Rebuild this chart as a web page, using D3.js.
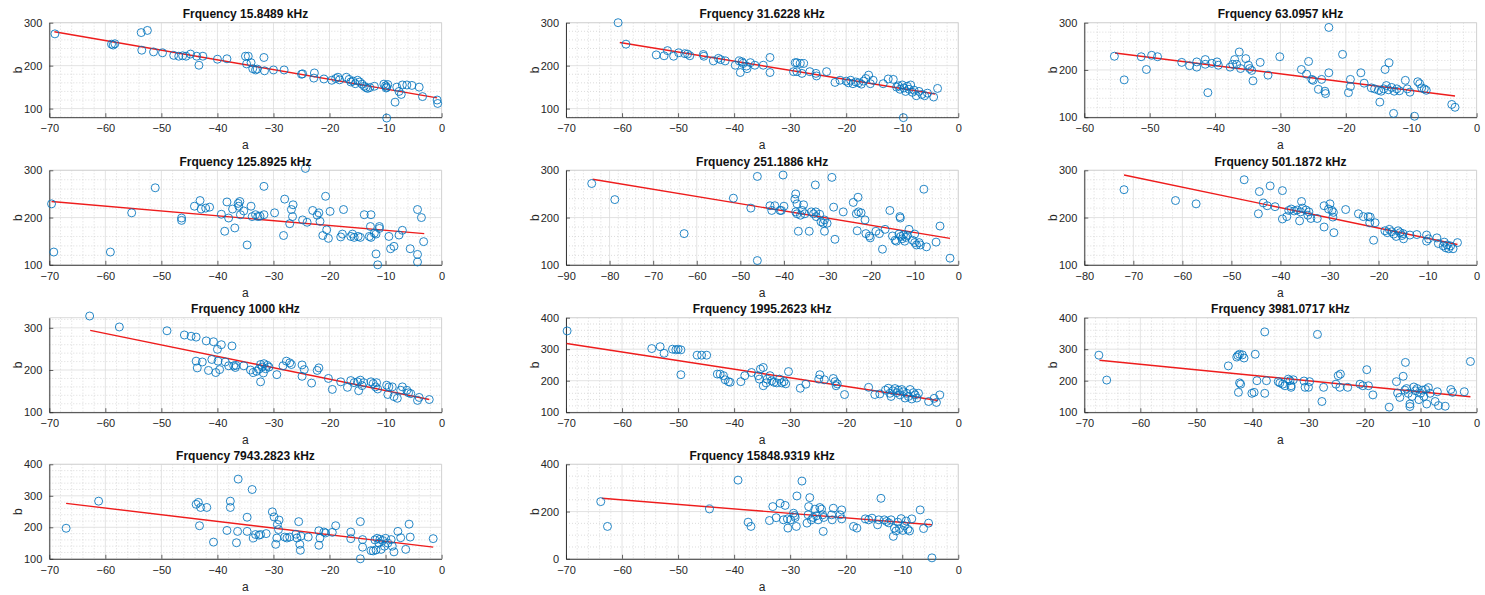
<!DOCTYPE html>
<html><head><meta charset="utf-8">
<script src="https://cdn.jsdelivr.net/npm/d3@7"></script>
<style>body{margin:0;background:#fff}svg{display:block;font-family:"Liberation Sans",Arial,Helvetica,sans-serif}</style>
</head><body><svg id="c" width="1485" height="595"></svg>
<script>
const titles = ["Frquency 15.8489 kHz","Frquency 31.6228 kHz","Frquency 63.0957 kHz","Frquency 125.8925 kHz","Frquency 251.1886 kHz","Frquency 501.1872 kHz","Frquency 1000 kHz","Frquency 1995.2623 kHz","Frquency 3981.0717 kHz","Frquency 7943.2823 kHz","Frquency 15848.9319 kHz"];
const xDomains = [[-70,0],[-70,0],[-60,0],[-70,0],[-90,0],[-80,0],[-70,0],[-70,0],[-70,0],[-70,0],[-70,0]];
const yDomains = [[80,300],[80,300],[100,300],[100,300],[100,300],[100,300],[100,324],[100,400],[100,400],[100,400],[0,400]];
const yTickSets = [[100,200,300],[100,200,300],[100,200,300],[100,200,300],[100,200,300],[100,200,300],[100,200,300],[100,200,300,400],[100,200,300,400],[100,200,300,400],[0,200,400]];
const xLabel = "a", yLabel = "b";

const pts1 = [[-69.0,274],[-58.9,250],[-58.6,248],[-58.3,251],[-53.6,277],[-52.5,282],[-53.5,236],[-51.4,232],[-49.8,230],[-47.8,224],[-46.9,222],[-46.2,223],[-45.6,222],[-44.8,227],[-43.7,222],[-42.6,222],[-43.3,201],[-40.0,215],[-38.3,216],[-35.0,222],[-34.5,222],[-34.8,204],[-34.0,207],[-33.7,193],[-33.2,190],[-32.9,192],[-31.7,219],[-31.6,188],[-30.0,190],[-28.1,190],[-25.0,180],[-24.8,181],[-22.7,183],[-22.8,171],[-21.0,169],[-19.6,166],[-18.9,170],[-18.5,173],[-18.2,167],[-17.0,173],[-16.5,168],[-16.2,162],[-15.8,164],[-15.4,158],[-15.0,166],[-14.6,162],[-14.2,157],[-13.8,152],[-13.5,149],[-13.2,147],[-12.8,149],[-12.0,152],[-10.3,157],[-10.0,153],[-9.8,150],[-9.6,156],[-9.9,148],[-9.8,78],[-8.3,115],[-8.0,150],[-7.6,140],[-7.2,133],[-7.0,155],[-6.2,155],[-5.3,154],[-4.0,150],[-3.4,128],[-0.8,120],[-0.7,112]];
const pts2 = [[-60.7,300],[-59.3,250],[-53.9,225],[-52.5,223],[-51.9,235],[-50.8,222],[-49.9,230],[-48.8,228],[-48.3,227],[-47.9,223],[-45.5,226],[-45.4,222],[-43.7,211],[-42.8,217],[-42.4,214],[-41.6,211],[-39.8,201],[-39.1,211],[-38.6,209],[-38.4,205],[-38.9,184],[-37.8,199],[-37.7,193],[-37.1,207],[-36.3,201],[-34.8,201],[-33.6,219],[-33.6,184],[-29.1,207],[-28.8,207],[-28.2,205],[-29.4,186],[-28.8,186],[-27.9,182],[-27.6,205],[-26.5,186],[-25.4,182],[-25.3,176],[-23.5,186],[-22.0,161],[-21.1,166],[-20.0,164],[-19.6,160],[-19.2,166],[-18.8,158],[-18.3,162],[-17.8,160],[-17.3,157],[-16.9,164],[-16.5,170],[-16.0,178],[-15.7,158],[-15.2,166],[-13.4,158],[-12.5,169],[-11.6,168],[-11.0,150],[-10.7,153],[-10.4,145],[-10.0,155],[-9.7,148],[-9.4,140],[-9.1,152],[-8.8,145],[-8.5,155],[-8.2,138],[-7.9,143],[-7.5,130],[-7.0,140],[-6.5,133],[-6.0,130],[-5.5,136],[-4.4,127],[-3.7,147],[-9.8,79]];
const pts3 = [[-55.4,229],[-53.9,179],[-51.3,228],[-50.5,201],[-49.7,231],[-48.8,228],[-45.1,216],[-43.9,209],[-42.8,217],[-42.8,206],[-41.5,222],[-41.5,212],[-41.1,152],[-40.5,214],[-39.7,217],[-39.5,210],[-37.7,206],[-37.3,212],[-37.0,222],[-36.7,212],[-36.3,238],[-36.1,203],[-35.3,224],[-34.9,210],[-34.7,203],[-34.4,199],[-34.2,177],[-33.1,216],[-31.9,189],[-30.1,228],[-26.8,201],[-26.0,191],[-25.7,218],[-25.2,180],[-25.0,178],[-23.7,180],[-24.2,159],[-23.2,155],[-23.1,150],[-22.6,290],[-22.6,194],[-20.5,233],[-19.6,152],[-19.3,180],[-19.3,165],[-17.7,194],[-17.2,172],[-16.1,162],[-15.6,160],[-15.0,157],[-14.6,155],[-14.2,160],[-13.8,167],[-13.5,158],[-13.0,163],[-12.6,155],[-12.2,160],[-11.8,156],[-14.8,132],[-14.0,201],[-13.4,215],[-12.7,108],[-10.9,178],[-10.6,160],[-10.2,153],[-9.5,102],[-9.0,175],[-8.7,171],[-8.4,162],[-8.0,160],[-7.7,157],[-3.8,127],[-3.3,121]];
const pts4 = [[-69.6,229],[-69.2,127],[-59.1,127],[-55.3,210],[-51.1,263],[-46.4,199],[-46.4,194],[-44.1,224],[-43.1,236],[-42.9,218],[-42.1,220],[-41.4,222],[-39.3,207],[-38.7,171],[-38.3,233],[-38.0,199],[-37.3,218],[-36.9,178],[-36.3,230],[-36.2,224],[-36.0,234],[-35.9,206],[-35.3,214],[-34.7,142],[-34.0,224],[-33.8,202],[-33.2,206],[-32.8,202],[-32.4,203],[-31.7,206],[-31.7,266],[-29.8,210],[-28.2,162],[-28.0,239],[-26.8,217],[-26.5,227],[-27.1,187],[-26.6,202],[-24.8,195],[-24.3,304],[-24.0,190],[-23.0,215],[-22.2,205],[-21.9,210],[-21.7,192],[-21.2,162],[-20.7,245],[-20.5,174],[-20.2,156],[-19.9,213],[-18.0,159],[-17.7,165],[-17.5,217],[-16.2,160],[-15.9,165],[-15.6,158],[-14.9,160],[-14.5,158],[-13.8,206],[-12.6,206],[-12.9,160],[-12.6,158],[-12.7,181],[-12.0,167],[-11.7,165],[-11.7,123],[-11.4,100],[-11.1,177],[-11.1,181],[-9.4,160],[-9.1,134],[-8.5,139],[-7.6,163],[-7.0,173],[-5.6,134],[-4.3,217],[-4.3,122],[-4.3,106],[-3.6,200],[-3.2,149]];
const pts5 = [[-84.1,272],[-78.8,238],[-62.9,166],[-51.6,241],[-47.6,220],[-46.1,287],[-46.1,109],[-43.2,225],[-42.8,215],[-42.1,225],[-40.9,215],[-40.2,290],[-40.0,224],[-40.6,215],[-37.3,250],[-37.5,239],[-37.0,229],[-37.3,212],[-37.0,208],[-36.7,171],[-36.2,205],[-35.8,215],[-35.5,227],[-35.2,208],[-34.2,171],[-33.7,212],[-33.2,208],[-32.7,212],[-32.6,202],[-32.8,269],[-31.8,207],[-31.5,191],[-31.0,188],[-30.7,195],[-30.7,171],[-30.1,188],[-29.0,285],[-28.6,222],[-28.3,154],[-26.4,212],[-24.1,232],[-23.0,243],[-23.4,208],[-22.9,212],[-22.3,210],[-23.2,172],[-21.4,195],[-21.2,166],[-20.4,161],[-20.2,157],[-18.9,171],[-18.1,166],[-17.4,133],[-16.8,175],[-15.7,215],[-15.1,161],[-14.5,152],[-14.2,150],[-13.4,202],[-13.3,199],[-13.6,165],[-13.2,160],[-12.9,155],[-12.6,163],[-12.3,150],[-12.0,158],[-11.7,162],[-11.3,175],[-10.5,152],[-10.0,147],[-9.6,142],[-10.0,165],[-9.0,147],[-8.7,142],[-7.9,260],[-7.3,138],[-5.1,148],[-4.2,182],[-1.9,114]];
const pts6 = [[-71.9,259],[-61.4,236],[-57.2,229],[-47.4,280],[-44.3,255],[-44.5,208],[-42.1,267],[-43.5,231],[-42.7,225],[-41.1,223],[-39.6,257],[-39.6,197],[-38.7,202],[-38.3,215],[-37.8,218],[-37.2,214],[-36.6,216],[-35.9,212],[-35.7,234],[-36.1,193],[-35.5,220],[-34.8,216],[-34.4,205],[-34.2,212],[-33.8,198],[-32.5,198],[-31.1,225],[-31.1,180],[-30.2,218],[-29.9,229],[-29.5,215],[-29.2,211],[-29.3,201],[-29.1,168],[-26.7,217],[-24.1,208],[-23.1,202],[-22.1,202],[-21.7,201],[-21.8,189],[-21.0,152],[-20.7,189],[-18.7,172],[-18.2,168],[-17.8,175],[-17.3,170],[-16.9,165],[-16.4,160],[-16.0,172],[-15.6,168],[-15.2,162],[-15.0,166],[-14.9,155],[-13.6,163],[-12.2,164],[-10.2,163],[-10.2,150],[-9.8,155],[-8.1,157],[-7.8,145],[-6.8,140],[-6.6,148],[-6.3,136],[-6.0,142],[-5.7,134],[-5.3,140],[-4.8,134],[-3.9,147]];
const pts7 = [[-62.8,328],[-57.5,302],[-49.0,293],[-45.9,283],[-44.7,280],[-43.8,278],[-42.0,269],[-40.7,267],[-40.0,249],[-39.3,260],[-37.4,257],[-43.8,221],[-43.6,205],[-42.7,219],[-41.6,199],[-41.0,225],[-40.3,194],[-39.9,221],[-39.6,201],[-38.6,219],[-38.0,210],[-37.1,210],[-36.8,206],[-36.7,211],[-35.3,210],[-34.1,200],[-33.6,194],[-33.0,197],[-32.6,202],[-32.3,213],[-32.0,207],[-31.7,215],[-31.4,203],[-31.8,193],[-32.3,172],[-31.1,211],[-30.8,207],[-29.4,189],[-28.3,210],[-27.7,221],[-27.1,217],[-26.8,213],[-24.9,212],[-24.5,201],[-24.9,185],[-23.2,169],[-22.2,199],[-21.9,205],[-20.2,180],[-19.5,154],[-18.0,172],[-16.8,159],[-16.2,175],[-15.6,170],[-15.0,172],[-14.8,151],[-14.5,176],[-14.2,163],[-13.9,170],[-12.6,172],[-12.2,168],[-11.8,160],[-11.4,155],[-11.6,170],[-9.8,164],[-9.6,142],[-9.4,160],[-8.8,160],[-8.5,137],[-7.9,133],[-7.3,152],[-7.0,160],[-6.2,152],[-5.9,146],[-5.5,144],[-4.3,128],[-4.0,135],[-2.2,130]];
const pts8 = [[-69.8,358],[-54.7,302],[-53.2,308],[-52.5,287],[-51.0,300],[-50.4,298],[-50.0,300],[-49.5,298],[-49.5,219],[-46.6,281],[-45.8,281],[-44.9,281],[-43.0,221],[-42.5,221],[-41.9,216],[-41.6,203],[-41.0,197],[-40.7,195],[-38.8,197],[-38.1,216],[-36.9,226],[-35.7,216],[-35.3,237],[-35.5,205],[-34.8,242],[-34.8,184],[-34.3,193],[-34.1,205],[-33.6,216],[-33.3,200],[-32.9,195],[-32.4,193],[-31.9,205],[-31.5,193],[-31.1,197],[-30.8,190],[-30.3,229],[-28.2,176],[-27.2,189],[-24.7,219],[-24.9,205],[-23.9,203],[-22.3,207],[-22.0,197],[-21.8,184],[-21.6,190],[-20.3,156],[-16.0,179],[-14.9,156],[-14.0,158],[-13.0,170],[-12.5,176],[-12.2,160],[-12.0,150],[-11.7,168],[-11.3,175],[-11.0,162],[-10.7,170],[-10.4,155],[-10.1,172],[-9.8,165],[-9.5,145],[-9.2,160],[-8.9,150],[-8.6,172],[-8.3,142],[-8.0,162],[-7.7,155],[-7.4,145],[-7.1,160],[-5.3,134],[-4.3,144],[-3.9,131],[-3.3,155]];
const pts9 = [[-67.4,281],[-66.0,202],[-44.3,247],[-42.8,275],[-42.6,280],[-42.3,284],[-41.8,282],[-41.5,272],[-42.5,163],[-42.3,193],[-42.1,189],[-40.1,160],[-39.7,163],[-39.5,284],[-39.2,200],[-37.8,355],[-37.8,160],[-37.5,200],[-35.4,197],[-35.1,193],[-34.6,189],[-34.2,184],[-33.6,205],[-33.3,200],[-33.1,184],[-33.1,179],[-32.7,203],[-30.8,199],[-30.6,179],[-30.0,179],[-29.8,197],[-28.4,347],[-27.6,134],[-27.3,179],[-25.1,189],[-24.7,216],[-24.3,221],[-24.4,179],[-23.0,179],[-20.8,189],[-20.3,184],[-19.6,235],[-19.3,184],[-18.5,155],[-15.6,116],[-14.3,197],[-14.1,161],[-13.7,147],[-13.1,214],[-12.7,258],[-12.8,170],[-12.5,175],[-12.2,160],[-11.9,126],[-11.9,118],[-11.5,150],[-11.2,180],[-10.9,168],[-10.6,175],[-10.3,140],[-10.0,160],[-9.7,170],[-9.4,150],[-9.1,172],[-8.9,126],[-8.6,178],[-8.3,160],[-7.4,134],[-7.0,165],[-6.8,121],[-5.6,119],[-4.6,172],[-4.3,163],[-2.2,165],[-1.1,261]];
const pts10 = [[-67.0,197],[-61.2,283],[-43.8,273],[-43.4,279],[-43.0,263],[-43.2,205],[-41.9,263],[-40.7,153],[-38.3,190],[-37.7,283],[-37.7,263],[-36.6,151],[-36.3,353],[-36.4,187],[-34.7,232],[-34.7,187],[-33.8,320],[-33.6,166],[-33.2,177],[-32.6,175],[-32.3,177],[-31.3,180],[-30.2,249],[-29.9,233],[-29.6,146],[-29.4,166],[-29.3,209],[-29.1,193],[-29.0,223],[-28.0,169],[-27.6,166],[-27.1,169],[-26.0,178],[-25.8,166],[-25.5,218],[-25.3,146],[-25.2,127],[-25.1,172],[-23.8,169],[-21.9,189],[-21.7,166],[-21.9,143],[-21.0,185],[-20.7,182],[-19.5,184],[-18.9,205],[-16.2,185],[-16.2,164],[-14.5,218],[-14.5,100],[-14.1,161],[-14.1,137],[-12.6,126],[-12.2,125],[-11.9,160],[-11.7,128],[-11.5,165],[-11.2,150],[-11.0,162],[-10.8,130],[-10.5,158],[-10.2,140],[-10.0,165],[-9.6,150],[-9.0,161],[-8.8,140],[-8.5,122],[-7.8,187],[-7.3,167],[-6.4,130],[-5.8,210],[-5.6,169],[-1.5,164]];
const pts11 = [[-63.8,242],[-62.6,137],[-44.4,211],[-39.3,333],[-37.5,155],[-37.0,137],[-33.7,162],[-33.1,221],[-31.8,235],[-32.5,174],[-30.9,226],[-31.2,165],[-30.5,169],[-30.4,130],[-29.9,165],[-29.4,193],[-29.2,183],[-29.1,175],[-28.9,137],[-28.8,266],[-27.9,329],[-27.0,151],[-26.8,186],[-26.7,221],[-26.5,259],[-26.2,165],[-25.9,175],[-25.6,210],[-25.3,182],[-25.0,165],[-24.7,217],[-24.4,210],[-24.2,186],[-24.0,175],[-24.1,116],[-22.6,186],[-22.3,214],[-22.5,165],[-21.1,186],[-20.8,207],[-20.8,169],[-18.7,137],[-18.1,130],[-16.6,169],[-16.0,165],[-15.4,172],[-14.4,144],[-14.2,165],[-13.8,256],[-13.2,165],[-12.8,158],[-12.4,152],[-12.0,165],[-11.6,95],[-11.4,130],[-11.1,118],[-10.8,155],[-10.5,128],[-10.2,170],[-9.9,120],[-9.6,140],[-9.3,160],[-9.0,125],[-8.7,118],[-8.3,169],[-6.8,207],[-6.2,128],[-5.3,151],[-4.7,4]];
const fitLines = [[[-69.1,279],[-0.8,125]],[[-60.4,254],[-4.1,134]],[[-55.3,236],[-3.3,145]],[[-69.6,234],[-3.1,166]],[[-83.9,281],[-1.9,156]],[[-71.9,290],[-3.9,143]],[[-62.7,294],[-2.2,130]],[[-69.9,318],[-3.6,137]],[[-67.3,265],[-1.1,149]],[[-67.0,276],[-1.5,137]],[[-63.6,256],[-4.7,144]]];
const pointSets = [pts1,pts2,pts3,pts4,pts5,pts6,pts7,pts8,pts9,pts10,pts11];

const svg = d3.select("#c");
const colLeft = [49.3, 566, 1084.3], plotW = 392.3;
const rowTop = [22.7, 170.3, 317.7, 464.3], plotH = 94.5;
const axisCol = "#262626";

titles.forEach((title, i) => {
  const c = i % 3, r = Math.floor(i / 3);
  const L = colLeft[c], T = rowTop[r];
  const x = d3.scaleLinear().domain(xDomains[i]).range([L, L + plotW]);
  const y = d3.scaleLinear().domain(yDomains[i]).range([T + plotH, T]);
  const g = svg.append("g");
  const xt = d3.range(xDomains[i][0], xDomains[i][1] + 0.001, 10);
  const yt = yTickSets[i];
  const yStep = yt[1] - yt[0];
  const yMinorStep = yStep === 200 ? 50 : 20;
  const xMinor = d3.range(xDomains[i][0], xDomains[i][1] + 0.001, 2).filter(v => !xt.includes(v));
  const yMinor = d3.range(Math.ceil(yDomains[i][0] / yMinorStep) * yMinorStep, yDomains[i][1] + 0.001, yMinorStep).filter(v => !yt.includes(v));
  g.selectAll(".mx").data(xMinor).join("line").attr("x1", d => x(d)).attr("x2", d => x(d)).attr("y1", T).attr("y2", T + plotH)
    .attr("stroke", "#c4c4c4").attr("stroke-width", 0.6).attr("stroke-dasharray", "1,2");
  g.selectAll(".my").data(yMinor).join("line").attr("y1", d => y(d)).attr("y2", d => y(d)).attr("x1", L).attr("x2", L + plotW)
    .attr("stroke", "#c4c4c4").attr("stroke-width", 0.6).attr("stroke-dasharray", "1,2");
  g.append("g").selectAll("line").data(xt).join("line").attr("x1", d => x(d)).attr("x2", d => x(d)).attr("y1", T).attr("y2", T + plotH)
    .attr("stroke", "#dcdcdc").attr("stroke-width", 0.8);
  g.append("g").selectAll("line").data(yt).join("line").attr("y1", d => y(d)).attr("y2", d => y(d)).attr("x1", L).attr("x2", L + plotW)
    .attr("stroke", "#dcdcdc").attr("stroke-width", 0.8);
  g.append("path").attr("d", `M${L},${T}H${L + plotW}V${T + plotH}`).attr("fill", "none").attr("stroke", "#cfcfcf").attr("stroke-width", 0.8);
  const xa = g.append("g").attr("transform", `translate(0,${T + plotH})`)
    .call(d3.axisBottom(x).tickValues(xt).tickSize(-4).tickSizeOuter(0).tickPadding(7).tickFormat(d3.format("d")));
  const ya = g.append("g").attr("transform", `translate(${L},0)`)
    .call(d3.axisLeft(y).tickValues(yt).tickSize(-4).tickSizeOuter(0).tickPadding(7).tickFormat(d3.format("d")));
  [xa, ya].forEach(a => {
    a.select(".domain").attr("stroke", axisCol).attr("stroke-width", 0.9);
    a.selectAll(".tick line").attr("stroke", axisCol).attr("stroke-width", 0.7);
    a.selectAll("text").attr("fill", axisCol).attr("font-size", 11).attr("font-family", "Liberation Sans, Arial, sans-serif");
  });
  g.append("path").datum(fitLines[i]).attr("d", d3.line().x(d => x(d[0])).y(d => y(d[1])))
    .attr("stroke", "#ee1c1c").attr("stroke-width", 1.4).attr("fill", "none");
  g.selectAll("circle").data(pointSets[i]).join("circle").attr("cx", d => x(d[0])).attr("cy", d => y(d[1])).attr("r", 4)
    .attr("fill", "none").attr("stroke", "#0072BD").attr("stroke-width", 0.85);
  g.append("text").attr("x", L + plotW / 2).attr("y", T - 4.5).attr("text-anchor", "middle").attr("font-size", 12).attr("font-weight", "bold")
    .attr("fill", "#111").text(title);
  g.append("text").attr("x", L + plotW / 2).attr("y", T + plotH + 32).attr("text-anchor", "middle").attr("font-size", 12)
    .attr("fill", axisCol).text(xLabel);
  g.append("text").attr("transform", `translate(${L - 27},${T + plotH / 2}) rotate(-90)`).attr("text-anchor", "middle").attr("font-size", 12)
    .attr("fill", axisCol).text(yLabel);
});
</script></body></html>
